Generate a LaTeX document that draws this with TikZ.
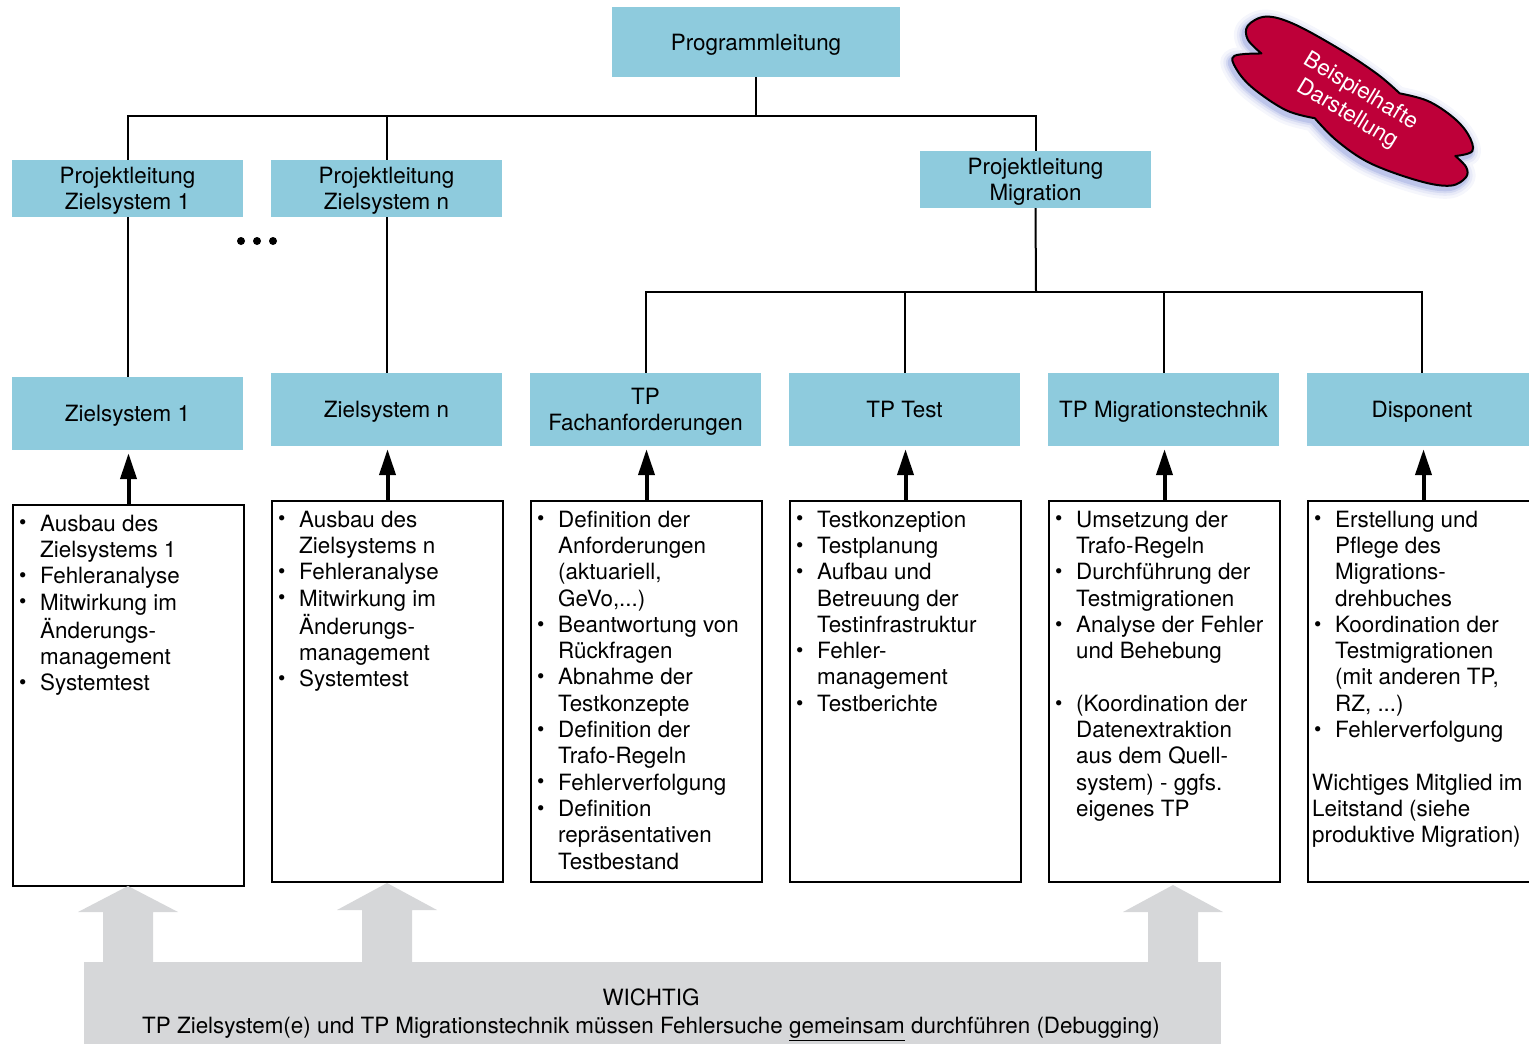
\documentclass[tikz,border=0pt]{standalone}
\usepackage{fontspec}
\setmainfont{TeX Gyre Heros}
\usetikzlibrary{arrows.meta}
\definecolor{hdrblue}{RGB}{142,203,221}
\definecolor{cloudred}{RGB}{190,0,57}
\definecolor{glowblue}{RGB}{80,100,200}
\definecolor{grayarrow}{RGB}{214,215,217}
\newcommand\myfs{\fontsize{22.4}{26.3}\selectfont}
\newcommand\bl{\raisebox{1.2pt}{\fontsize{21}{21}\selectfont\textbullet}}
\newcommand\cloudpath{(-105,3)
  -- plot[smooth, tension=0.6] coordinates {(-105,3) (-124,-2) (-131,-14) (-120,-31) (-92,-39) (-40,-41) (5,-39) (34,-34)}
  -- plot[smooth, tension=0.6] coordinates {(34,-34) (62,-42) (92,-41) (114,-34) (126,-22) (114,-9)}
  -- plot[smooth, tension=0.6] coordinates {(114,-9) (129,-5) (134,4) (125,19) (96,31) (45,41) (5,39) (-26,31)}
  -- plot[smooth, tension=0.6] coordinates {(-26,31) (-55,39) (-95,37) (-119,29) (-127,19) (-105,3)}
  -- cycle}
\tikzset{
  hdr/.style={fill=hdrblue, minimum width=231pt, minimum height=57pt, inner sep=0pt, align=center, font=\myfs, text depth=0pt},
  lowhdr/.style={hdr, minimum height=73pt},
  wbox/.style={draw, line width=2pt, minimum width=231pt, minimum height=381pt, inner sep=0pt},
  wtext/.style={anchor=north west, inner sep=0pt, font=\myfs},
  conn/.style={line width=2pt},
  uparrow/.style={line width=4pt, -{Triangle[length=26pt,width=16pt]}, shorten >=3pt},
  bigarrow/.style={fill=grayarrow, draw=none},
  glow/.style={draw=glowblue, line join=round}
}
\begin{document}
\begin{tikzpicture}[x=1pt,y=-1pt]
\useasboundingbox (0,0) rectangle (1529,1044);

% header boxes
\node[hdr, minimum width=288pt, minimum height=70pt] (pl) at (756,42) {Programmleitung};
\node[hdr] (plz1) at (127.5,188.5) {Projektleitung\\Zielsystem 1};
\node[hdr] (plzn) at (386.5,188.5) {Projektleitung\\Zielsystem n};
\node[hdr] (plm) at (1035.5,179.5) {Projektleitung\\Migration};
\node[lowhdr] (z1) at (127.5,413.5) {Zielsystem 1};
\node[lowhdr] (zn) at (386.5,409.5) {Zielsystem n};
\node[lowhdr] (fa) at (645.5,409.5) {TP\\Fachanforderungen};
\node[lowhdr] (tt) at (904.5,409.5) {TP Test};
\node[lowhdr] (mt) at (1163.5,409.5) {TP Migrationstechnik};
\node[lowhdr] (dp) at (1422,409.5) {Disponent};

% tree connectors
\coordinate (j1) at (756,116);
\coordinate (j2) at (1036,292);
\draw[conn] (pl.south) -- (j1);
\draw[conn] (plz1.north) -- (plz1.north |- j1) -| (plm.north);
\draw[conn] (plzn.north) -- (plzn.north |- j1);
\draw[conn] (plz1.south) -- (z1.north);
\draw[conn] (plzn.south) -- (zn.north);
\draw[conn] (plm.south) -- (j2);
\draw[conn] (fa.north) -- (fa.north |- j2) -| (dp.north);
\draw[conn] (tt.north) -- (tt.north |- j2);
\draw[conn] (mt.north) -- (mt.north |- j2);

% dots
\fill (241,241) circle (4);
\fill (257,241) circle (4);
\fill (273,241) circle (4);

% white boxes
\node[wbox] (w1) at (128.5,695.5) {};
\node[wbox] (w2) at (387.5,691.5) {};
\node[wbox] (w3) at (646.5,691.5) {};
\node[wbox] (w4) at (905.5,691.5) {};
\node[wbox] (w5) at (1164.5,691.5) {};
\node[wbox] (w6) at (1423.5,691.5) {};

% arrows up
\draw[uparrow] (w1.north) -- (w1.north |- z1.south);
\draw[uparrow] (w2.north) -- (w2.north |- zn.south);
\draw[uparrow] (w3.north) -- (w3.north |- fa.south);
\draw[uparrow] (w4.north) -- (w4.north |- tt.south);
\draw[uparrow] (w5.north) -- (w5.north |- mt.south);
\draw[uparrow] (w6.north) -- (w6.north |- dp.south);

% box texts
\node[wtext] (t1) at ([shift={(7,8.5)}]w1.north west) {\begin{tabular}{@{}p{21pt}@{}l@{}}
\bl & Ausbau des\\ & Zielsystems 1\\ \bl & Fehleranalyse\\ \bl & Mitwirkung im\\ & Änderungs-\\ & management\\ \bl & Systemtest
\end{tabular}};
\node[wtext] (t2) at ([shift={(7,8.5)}]w2.north west) {\begin{tabular}{@{}p{21pt}@{}l@{}}
\bl & Ausbau des\\ & Zielsystems n\\ \bl & Fehleranalyse\\ \bl & Mitwirkung im\\ & Änderungs-\\ & management\\ \bl & Systemtest
\end{tabular}};
\node[wtext] (t3) at ([shift={(7,8.5)}]w3.north west) {\begin{tabular}{@{}p{21pt}@{}l@{}}
\bl & Definition der\\ & Anforderungen\\ & (aktuariell,\\ & GeVo,...)\\ \bl & Beantwortung von\\ & Rückfragen\\ \bl & Abnahme der\\ & Testkonzepte\\ \bl & Definition der\\ & Trafo-Regeln\\ \bl & Fehlerverfolgung\\ \bl & Definition\\ & repräsentativen\\ & Testbestand
\end{tabular}};
\node[wtext] (t4) at ([shift={(7,8.5)}]w4.north west) {\begin{tabular}{@{}p{21pt}@{}l@{}}
\bl & Testkonzeption\\ \bl & Testplanung\\ \bl & Aufbau und\\ & Betreuung der\\ & Testinfrastruktur\\ \bl & Fehler-\\ & management\\ \bl & Testberichte
\end{tabular}};
\node[wtext] (t5) at ([shift={(7,8.5)}]w5.north west) {\begin{tabular}{@{}p{21pt}@{}l@{}}
\bl & Umsetzung der\\ & Trafo-Regeln\\ \bl & Durchführung der\\ & Testmigrationen\\ \bl & Analyse der Fehler\\ & und Behebung\\ & \\ \bl & (Koordination der\\ & Datenextraktion\\ & aus dem Quell-\\ & system) - ggfs.\\ & eigenes TP
\end{tabular}};
\node[wtext] (t6) at ([shift={(7,8.5)}]w6.north west) {\begin{tabular}{@{}p{21pt}@{}l@{}}
\bl & Erstellung und\\ & Pflege des\\ & Migrations-\\ & drehbuches\\ \bl & Koordination der\\ & Testmigrationen\\ & (mit anderen TP,\\ & RZ, ...)\\ \bl & Fehlerverfolgung\\ & \\
\multicolumn{2}{@{\hspace{-2pt}}l@{}}{Wichtiges Mitglied im}\\
\multicolumn{2}{@{\hspace{-2pt}}l@{}}{Leitstand (siehe}\\
\multicolumn{2}{@{\hspace{-2pt}}l@{}}{produktive Migration)}
\end{tabular}};

% bottom grey area with arrows
\fill[bigarrow] (84,962) rectangle (1221,1044);
\fill[bigarrow] (103,963) -- (103,912) -- (78,912) -- (128,886) -- (178,912) -- (153,912) -- (153,963) -- cycle;
\fill[bigarrow] (362,963) -- (362,910) -- (337,910) -- (387,883) -- (437,910) -- (412,910) -- (412,963) -- cycle;
\fill[bigarrow] (1148,963) -- (1148,912) -- (1123,912) -- (1173,885) -- (1223,912) -- (1198,912) -- (1198,963) -- cycle;
\node[font=\myfs, align=center, inner sep=0pt] (imp) at (651,1015) {WICHTIG\\[1.7pt]TP Zielsystem(e) und TP Migrationstechnik müssen Fehlersuche \underline{gemeinsam} durchführen (Debugging)};

% cloud with blue glow
\begin{scope}[shift={(1351,108)}, rotate=-31]
\draw[glow, line width=20pt, draw opacity=0.06] \cloudpath;
\draw[glow, line width=14pt, draw opacity=0.08] \cloudpath;
\draw[glow, line width=9pt, draw opacity=0.12] \cloudpath;
\draw[glow, line width=5pt, draw opacity=0.18] \cloudpath;
\end{scope}
\begin{scope}[shift={(1353,105)}, rotate=-31]
\fill[cloudred] \cloudpath;
\draw[line width=2pt, line join=round] \cloudpath;
\end{scope}
\node[font=\myfs, text=white, align=center, rotate=-31, inner sep=0pt] (cltext) at (1354,103) {Beispielhafte\\Darstellung};
\end{tikzpicture}
\end{document}
